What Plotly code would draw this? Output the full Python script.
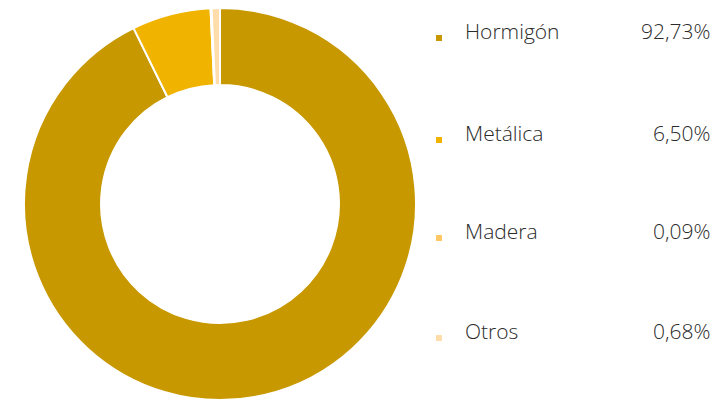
import plotly.graph_objects as go

# Share of structures by material
materials = ["Hormigón", "Metálica", "Madera", "Otros"]
shares = [92.73, 6.50, 0.09, 0.68]
share_labels = ["92,73%", "6,50%", "0,09%", "0,68%"]
colors = ["#C89800", "#F0B400", "#FFC864", "#FFDDAA"]

W, H = 717, 400
FONT = "Open Sans, sans-serif"
TEXT_COLOR = "#2b2b2b"

fig = go.Figure(
    go.Pie(
        labels=materials,
        values=shares,
        hole=0.607,
        sort=False,
        direction="clockwise",
        rotation=0,
        textinfo="none",
        hoverinfo="label+percent",
        marker=dict(colors=colors, line=dict(color="white", width=2)),
        domain=dict(x=[24 / W, 416 / W], y=[0, 392 / H]),
        showlegend=False,
    )
)

# Custom legend: colour swatch, name and formatted share per row
row_y = [31, 133, 231, 331]
annotations = []
shapes = []
for name, lbl, col, y in zip(materials, share_labels, colors, row_y):
    yp = 1 - y / H
    shapes.append(
        dict(
            type="rect", xref="paper", yref="paper",
            x0=436 / W, x1=442 / W,
            y0=1 - (y + 10) / H, y1=1 - (y + 4) / H,
            fillcolor=col, line=dict(width=0),
        )
    )
    annotations.append(
        dict(
            text=name, xref="paper", yref="paper", x=463 / W, y=yp,
            xanchor="left", yanchor="middle", showarrow=False,
            font=dict(family=FONT, size=21, color=TEXT_COLOR, weight=300),
        )
    )
    annotations.append(
        dict(
            text=lbl, xref="paper", yref="paper", x=712 / W, y=yp,
            xanchor="right", yanchor="middle", showarrow=False,
            font=dict(family=FONT, size=21, color=TEXT_COLOR, weight=300),
        )
    )

fig.update_layout(
    width=W,
    height=H,
    margin=dict(l=0, r=0, t=0, b=0),
    paper_bgcolor="white",
    plot_bgcolor="white",
    annotations=annotations,
    shapes=shapes,
)

fig.write_html("out.html")
